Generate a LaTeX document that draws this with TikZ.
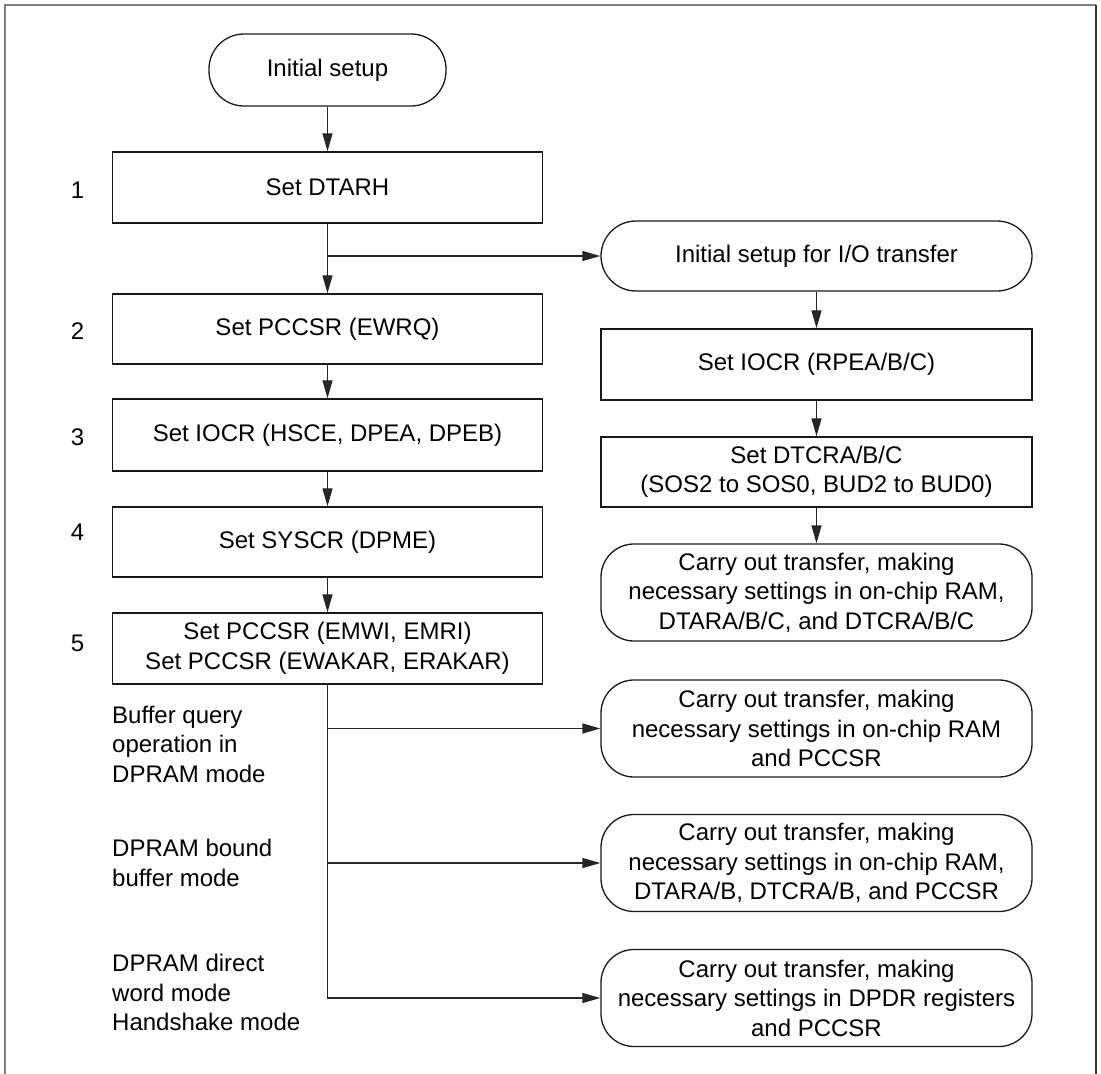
\documentclass[tikz,border=0pt]{standalone}
\usepackage{fontspec}
\setmainfont{Liberation Sans}
\usetikzlibrary{arrows.meta}
\begin{document}
\begin{tikzpicture}[x=1pt,y=-1pt,
  every node/.style={font=\fontsize{24}{29.5}\selectfont, inner sep=0pt, align=center},
  procbox/.style={draw=black!90, line width=1.4pt, minimum width=430pt},
  termbox/.style={draw=black!90, line width=1.3pt, rounded corners=35pt, minimum width=#1},
  carrybox/.style={draw=black!90, line width=1.3pt, rounded corners=33pt, minimum width=431pt, minimum height=97pt},
  conn/.style={draw=black!85, line width=1.3pt},
  arr/.style={conn, -{Triangle[length=18pt,width=10pt]}},
  steplabel/.style={anchor=center},
  modelabel/.style={anchor=base west, align=left}
]
\useasboundingbox (0,0) rectangle (1101,1074);
% frame
\draw[black!50, line width=2pt] (5,1074) -- (5,5) -- (1096,5);
\draw[black!80, line width=1.5pt] (1096,5) -- (1096,1074);

% left column
\node[termbox=237pt, minimum height=72pt] (init) at (327.5,70) {Initial setup};
\node[procbox, minimum height=71pt] (dtarh) at (327.5,187.5) {Set DTARH};
\node[procbox, minimum height=70pt] (pccsrA) at (327.5,329) {Set PCCSR (EWRQ)};
\node[procbox, minimum height=72pt] (iocrA) at (327.5,435) {Set IOCR (HSCE, DPEA, DPEB)};
\node[procbox, minimum height=70pt] (syscr) at (327.5,542) {Set SYSCR (DPME)};
\node[procbox, minimum height=71pt] (pccsrB) at (327.5,648.5) {Set PCCSR (EMWI, EMRI)\\Set PCCSR (EWAKAR, ERAKAR)};

% step numbers
\node[steplabel] (n1) at (77.5,190) {1};
\node[steplabel] (n2) at (77.5,331) {2};
\node[steplabel] (n3) at (77.5,437) {3};
\node[steplabel] (n4) at (77.5,532) {4};
\node[steplabel] (n5) at (77.5,643) {5};

% right column
\node[termbox=431pt, minimum height=70pt] (io) at (816.5,256) {Initial setup for I/O transfer};
\node[procbox, minimum width=431pt, minimum height=71pt] (iocrB) at (816.5,364.5) {Set IOCR (RPEA/B/C)};
\node[procbox, minimum width=431pt, minimum height=70pt] (dtcra) at (816.5,472) {Set DTCRA/B/C\\(SOS2 to SOS0, BUD2 to BUD0)};
\node[carrybox] (c1) at (816.5,592.5) {Carry out transfer, making\\necessary settings in on-chip RAM,\\DTARA/B/C, and DTCRA/B/C};
\node[carrybox] (c2) at (816.5,728.5) {Carry out transfer, making\\necessary settings in on-chip RAM\\and PCCSR};
\node[carrybox] (c3) at (816.5,863) {Carry out transfer, making\\necessary settings in on-chip RAM,\\DTARA/B, DTCRA/B, and PCCSR};
\node[carrybox] (c4) at (816.5,998) {Carry out transfer, making\\necessary settings in DPDR registers\\and PCCSR};

% mode labels
\node[modelabel] (m1) at (112,723) {Buffer query};
\node[modelabel] (m2) at (112,752) {operation in};
\node[modelabel] (m3) at (112,782) {DPRAM mode};
\node[modelabel] (m4) at (112,856) {DPRAM bound};
\node[modelabel] (m5) at (112,886) {buffer mode};
\node[modelabel] (m6) at (112,971) {DPRAM direct};
\node[modelabel] (m7) at (112,1001) {word mode};
\node[modelabel] (m8) at (112,1030) {Handshake mode};

% connectors
\draw[arr] (init) -- (dtarh);
\draw[arr] (dtarh) -- (pccsrA);
\draw[arr] (dtarh.south |- io.west) -- (io.west);
\draw[arr] (pccsrA) -- (iocrA);
\draw[arr] (iocrA) -- (syscr);
\draw[arr] (syscr) -- (pccsrB);
\draw[arr] (io) -- (iocrB);
\draw[arr] (iocrB) -- (dtcra);
\draw[arr] (dtcra) -- (c1);
\draw[arr] (pccsrB.south) |- (c4.west);
\draw[arr] (pccsrB.south |- c2.west) -- (c2.west);
\draw[arr] (pccsrB.south |- c3.west) -- (c3.west);
\end{tikzpicture}
\end{document}
